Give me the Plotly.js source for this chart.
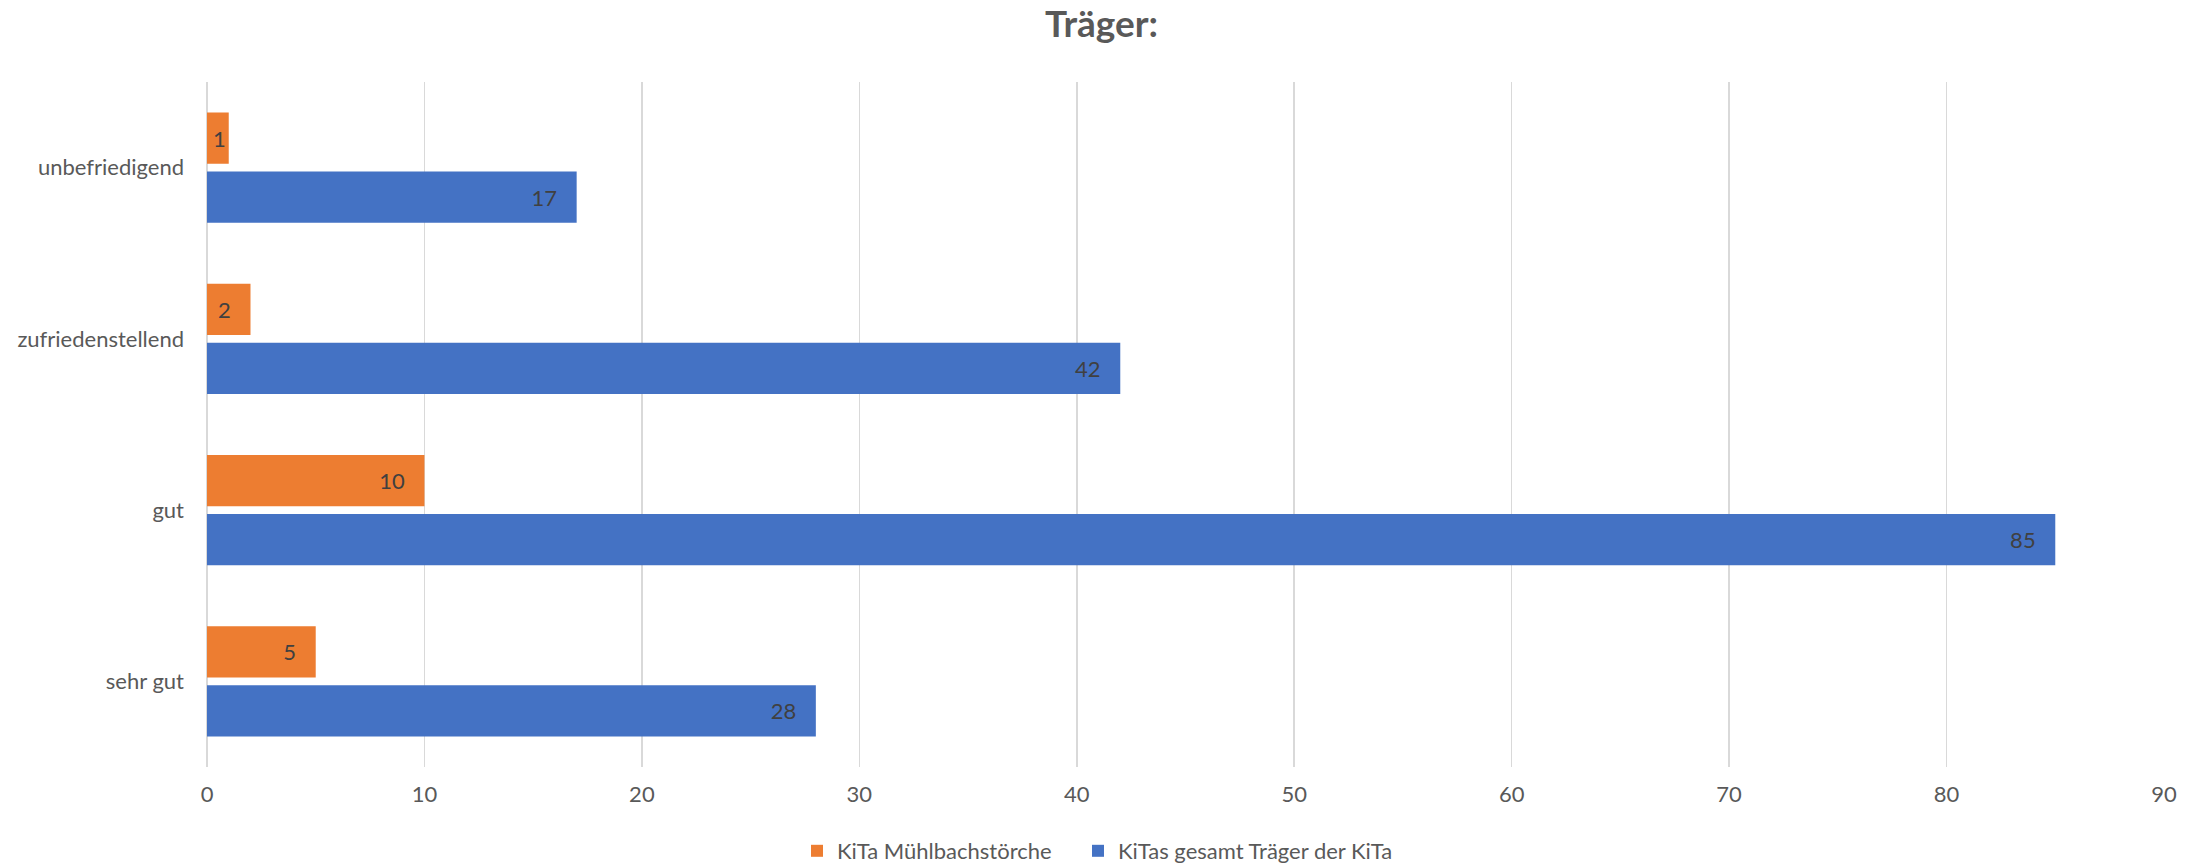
<!DOCTYPE html>
<html>
<head>
<meta charset="utf-8">
<script src="https://cdn.plot.ly/plotly-3.0.1.min.js"></script>
<style>html,body{margin:0;padding:0;background:#fff;}#chart{width:2203px;height:864px;}</style>
</head>
<body>
<div id="chart"></div>
<script>
const categories = ["sehr gut", "gut", "zufriedenstellend", "unbefriedigend"];
const seriesNames = ["KiTa Mühlbachstörche", "KiTas gesamt Träger der KiTa"];
const muehlbach = [5, 10, 2, 1];
const gesamt = [28, 85, 42, 17];
const xTicks = [0, 10, 20, 30, 40, 50, 60, 70, 80, 90];

const FONT = "Lato, 'Open Sans', sans-serif";
const FS = 22;
const W = 2203, H = 864;

function labelTemplates(vals) {
  // narrow bars: label hugs the bar end; wider bars: label inset from the end
  return vals.map(v => v < 2 ? "%{x}" : "%{x}\u2002\u00a0");
}

const common = {
  type: "bar",
  orientation: "h",
  y: categories,
  textposition: "inside",
  insidetextanchor: "end",
  constraintext: "none",
  textangle: 0,
  textfont: {family: FONT, size: FS, color: "#404040"},
  cliponaxis: false,
  hoverinfo: "x+y+name"
};

const traces = [
  Object.assign({}, common, {
    name: seriesNames[1],
    x: gesamt,
    texttemplate: labelTemplates(gesamt),
    legend: "legend2",
    marker: {color: "#4472C4", line: {width: 0}}
  }),
  Object.assign({}, common, {
    name: seriesNames[0],
    x: muehlbach,
    texttemplate: labelTemplates(muehlbach),
    legend: "legend",
    marker: {color: "#ED7D31", line: {width: 0}}
  })
];

const legendBase = {
  orientation: "h",
  xref: "container", yref: "container",
  xanchor: "left",
  y: (H - 851) / H, yanchor: "middle",
  font: {family: FONT, size: FS, color: "#595959"},
  itemwidth: 30,
  bgcolor: "rgba(0,0,0,0)",
  borderwidth: 0
};

const layout = {
  width: W,
  height: H,
  paper_bgcolor: "#ffffff",
  plot_bgcolor: "#ffffff",
  margin: {l: 207, r: 39, t: 82, b: 97},
  font: {family: FONT, size: FS, color: "#595959"},
  title: {
    text: "<b>Träger:</b>",
    font: {family: FONT, size: 37, color: "#595959"},
    x: 0.5, xanchor: "center",
    y: 1 - 24 / H, yanchor: "middle", yref: "container"
  },
  barmode: "group",
  bargap: 0.31,
  bargroupgap: 0.13,
  xaxis: {
    range: [0, 90],
    tickvals: xTicks,
    ticktext: xTicks.map(String),
    showgrid: true,
    gridcolor: "#d9d9d9",
    gridwidth: 1.5,
    zeroline: true,
    zerolinecolor: "#d9d9d9",
    zerolinewidth: 1.5,
    showline: false,
    ticks: "",
    ticklabelstandoff: 12,
    tickfont: {family: FONT, size: FS, color: "#595959"},
    fixedrange: true
  },
  yaxis: {
    type: "category",
    categoryorder: "array",
    categoryarray: categories,
    showgrid: false,
    zeroline: false,
    showline: false,
    ticks: "",
    ticklabelstandoff: 22,
    tickfont: {family: FONT, size: FS, color: "#595959"},
    fixedrange: true
  },
  showlegend: true,
  legend: Object.assign({}, legendBase, {x: 797 / W}),
  legend2: Object.assign({}, legendBase, {x: 1078 / W})
};

Plotly.newPlot("chart", traces, layout, {displayModeBar: false, staticPlot: true});
</script>
</body>
</html>
